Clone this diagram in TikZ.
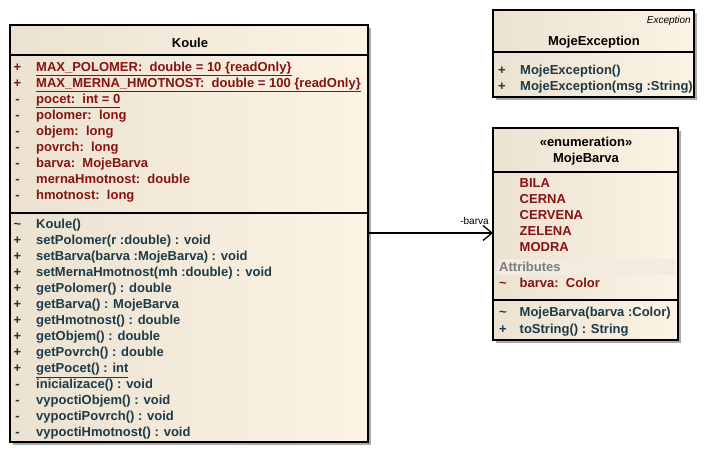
\documentclass[tikz,border=0pt]{standalone}
\usepackage{fontspec}
\setmainfont{Liberation Sans}
\usetikzlibrary{arrows.meta}
\definecolor{cL}{RGB}{236,226,210}
\definecolor{cR}{RGB}{252,243,228}
\definecolor{shd}{RGB}{170,170,170}
\definecolor{attrc}{RGB}{135,18,18}
\definecolor{opc}{RGB}{28,58,72}
\definecolor{band}{RGB}{241,235,226}
\definecolor{bandtxt}{RGB}{125,125,125}
\newcommand{\ulc}[1]{\underline{#1}}
\begin{document}
\begin{tikzpicture}[x=1pt,y=-1pt,
  shadowbox/.style={fill=shd,draw=none},
  classbox/.style={draw=black,line width=1.4pt,left color=cL,right color=cR},
  sepline/.style={draw=black,line width=1.2pt},
  txt/.style={anchor=base west,inner sep=0pt,font=\bfseries\fontsize{13}{15}\selectfont},
  attr/.style={txt,text=attrc},
  oper/.style={txt,text=opc},
  vis/.style={anchor=base,inner sep=0pt,font=\bfseries\fontsize{13}{15}\selectfont},
  title/.style={anchor=base,inner sep=0pt,font=\bfseries\fontsize{13}{15}\selectfont,text=black},
  small/.style={inner sep=0pt,font=\fontsize{10}{12}\selectfont},
  assoc/.style={draw=black,line width=1.3pt,-{Straight Barb[length=9pt,width=15pt,line width=1.3pt]}}
]
\useasboundingbox (0,0) rectangle (708,455);
% ---------- Koule ----------
\fill[shadowbox] (13,28) rectangle (371,445);
\path[classbox] (10,25) rectangle (368,442);
\node[title] (kname) at (190,47) {Koule};
\draw[sepline] (10,55) -- (368,55);
\draw[sepline] (10,213) -- (368,213);
\foreach \v/\t [count=\i from 0] in {
  +/{\ulc{MAX\_POLOMER:\ \ double = 10 \{readOnly\}}},
  +/{\ulc{MAX\_MERNA\_HMOTNOST:\ \ double = 100 \{readOnly\}}},
  -/{\ulc{pocet:\ \ int = 0}},
  -/{polomer:\ \ long},
  -/{objem:\ \ long},
  -/{povrch:\ \ long},
  -/{barva:\ \ MojeBarva},
  -/{mernaHmotnost:\ \ double},
  -/{hmotnost:\ \ long}}{
  \node[vis,text=attrc] (kav\i) at (17.5,71+16.1*\i) {\v};
  \node[attr] (ka\i) at (36,71+16.1*\i) {\t};
}
\foreach \v/\t [count=\i from 0] in {
  \textasciitilde/{Koule()},
  +/{setPolomer(r :double) : void},
  +/{setBarva(barva :MojeBarva) : void},
  +/{setMernaHmotnost(mh :double) : void},
  +/{getPolomer() : double},
  +/{getBarva() : MojeBarva},
  +/{getHmotnost() : double},
  +/{getObjem() : double},
  +/{getPovrch() : double},
  +/{\ulc{getPocet() : int}},
  -/{inicializace() : void},
  -/{vypoctiObjem() : void},
  -/{vypoctiPovrch() : void},
  -/{vypoctiHmotnost() : void}}{
  \node[vis,text=opc] (kov\i) at (17.5,228.5+16.03*\i) {\v};
  \node[oper] (ko\i) at (36,228.5+16.03*\i) {\t};
}
\coordinate (kE) at (368,233);
% ---------- MojeException ----------
\fill[shadowbox] (496,13) rectangle (697,100);
\path[classbox] (493,10) rectangle (694,97);
\node[small,anchor=base east,font=\itshape\fontsize{10}{12}\selectfont] (exst) at (691,23) {Exception};
\node[title] (exname) at (594,45) {MojeException};
\draw[sepline] (493,52) -- (694,52);
\node[vis,text=opc] (exv0) at (502,74) {+};
\node[oper] (ex0) at (520,74) {MojeException()};
\node[vis,text=opc] (exv1) at (502,90) {+};
\node[oper] (ex1) at (520,90) {MojeException(msg :String)};
% ---------- MojeBarva ----------
\fill[shadowbox] (496,131) rectangle (681,343);
\path[classbox] (493,128) rectangle (678,340);
\node[title] (mbst) at (586,146.7) {«enumeration»};
\node[title] (mbname) at (586,162.7) {MojeBarva};
\draw[sepline] (493,172) -- (678,172);
\foreach \t [count=\i from 0] in {BILA,CERNA,CERVENA,ZELENA,MODRA}{
  \node[attr] (mbl\i) at (519.5,187.7+16*\i) {\t};
}
\fill[band] (497,258.5) rectangle (675,275);
\node[txt,text=bandtxt] (mbatt) at (499,271.7) {Attributes};
\node[vis,text=attrc] (mbav) at (503,287.3) {\textasciitilde};
\node[attr] (mba) at (519.5,287.3) {barva:\ \ Color};
\draw[sepline] (493,300) -- (678,300);
\node[vis,text=opc] (mbov0) at (503,316.7) {\textasciitilde};
\node[oper] (mbo0) at (519.5,316.7) {MojeBarva(barva :Color)};
\node[vis,text=opc] (mbov1) at (503,333) {+};
\node[oper] (mbo1) at (519.5,333) {toString() : String};
\coordinate (mbW) at (493,233);
% ---------- association ----------
\draw[assoc] (kE) -- (mbW);
\node[small,anchor=base] (rolelbl) at (474.5,224.5) {-barva};
\end{tikzpicture}
\end{document}
